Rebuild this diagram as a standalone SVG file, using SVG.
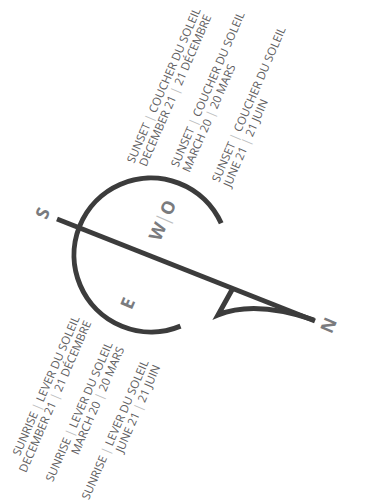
<svg xmlns="http://www.w3.org/2000/svg" width="366" height="502" viewBox="0 0 366 502">
<style>
.bg{fill:#ffffff}
.stk{fill:none;stroke:#3c3c3c;stroke-width:5}
.lbl{font-family:"Open Sans","Liberation Sans",sans-serif;font-size:11.5px;fill:#5f6062}
.sep{fill:#bcbec0}
.cmp{font-family:"Open Sans","Liberation Sans",sans-serif;font-size:18px;font-weight:bold;fill:#7a7b7e}
</style>
<rect class="bg" x="0" y="0" width="366" height="502"/>
<g id="connectors">
<path id="compass-circle" class="stk" d="M221.2,223.3 A77,77 0 1 0 180.5,326.1"/>
<path id="ns-line" class="stk" d="M57,219 L315,321"/>
<path id="north-arrow" class="stk" stroke-linejoin="miter" d="M233,288 L218,315 Q255,300 314,320"/>
</g>
<g id="node-S"><text class="cmp" text-anchor="middle" dominant-baseline="central" transform="translate(42,213) rotate(-66.5)">S</text></g>
<g id="node-WO"><text class="cmp" text-anchor="middle" dominant-baseline="central" transform="translate(162,220) rotate(-66.5)">W<tspan class="sep" font-weight="normal">|</tspan>O</text></g>
<g id="node-E"><text class="cmp" text-anchor="middle" dominant-baseline="central" transform="translate(127,303) rotate(-66.5)">E</text></g>
<g id="node-N"><text class="cmp" text-anchor="middle" dominant-baseline="central" transform="translate(328,325) rotate(-66.5)">N</text></g>
<g id="sunset-dec" transform="translate(134,164) rotate(-66.5)">
<text class="lbl" x="0" y="0">SUNSET <tspan class="sep">|</tspan> COUCHER DU SOLEIL</text>
<text class="lbl" x="2" y="12.5">DECEMBER 21 <tspan class="sep">|</tspan> 21 DÉCEMBRE</text>
</g>
<g id="sunset-mar" transform="translate(178,168) rotate(-66.5)">
<text class="lbl" x="0" y="0">SUNSET <tspan class="sep">|</tspan> COUCHER DU SOLEIL</text>
<text class="lbl" x="0" y="12.5">MARCH 20 <tspan class="sep">|</tspan> 20 MARS</text>
</g>
<g id="sunset-jun" transform="translate(219,183) rotate(-66.5)">
<text class="lbl" x="0" y="0">SUNSET <tspan class="sep">|</tspan> COUCHER DU SOLEIL</text>
<text class="lbl" x="0" y="12.5">JUNE 21 <tspan class="sep">|</tspan> 21 JUIN</text>
</g>
<g id="sunrise-dec" transform="translate(80,318) rotate(-66.5)">
<text class="lbl" x="0" y="0" text-anchor="end">SUNRISE <tspan class="sep">|</tspan> LEVER DU SOLEIL</text>
<text class="lbl" x="0" y="12.5" text-anchor="end">DECEMBER 21 <tspan class="sep">|</tspan> 21 DÉCEMBRE</text>
</g>
<g id="sunrise-mar" transform="translate(113,344) rotate(-66.5)">
<text class="lbl" x="0" y="0" text-anchor="end">SUNRISE <tspan class="sep">|</tspan> LEVER DU SOLEIL</text>
<text class="lbl" x="0" y="12.5" text-anchor="end">MARCH 20 <tspan class="sep">|</tspan> 20 MARS</text>
</g>
<g id="sunrise-jun" transform="translate(149,362) rotate(-66.5)">
<text class="lbl" x="0" y="0" text-anchor="end">SUNRISE <tspan class="sep">|</tspan> LEVER DU SOLEIL</text>
<text class="lbl" x="0" y="12.5" text-anchor="end">JUNE 21 <tspan class="sep">|</tspan> 21 JUIN</text>
</g>
</svg>
